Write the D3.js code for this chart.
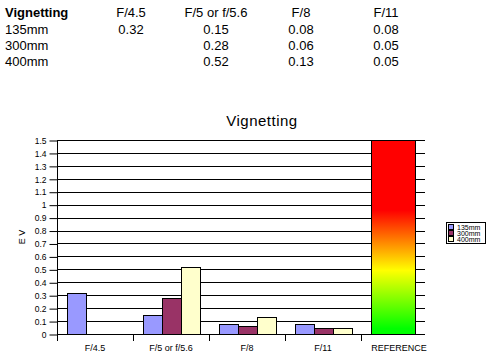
<!DOCTYPE html>
<html>
<head>
<meta charset="utf-8">
<script src="https://cdn.jsdelivr.net/npm/d3@7"></script>
<style>
  body { margin: 0; background: #fff; }
  svg { display: block; font-family: "Liberation Sans", Arial, sans-serif; }
</style>
</head>
<body>
<svg id="chart" width="502" height="361"></svg>
<script>
// data
var apertures = ["F/4.5", "F/5 or f/5.6", "F/8", "F/11"];
var lenses = ["135mm", "300mm", "400mm"];
var v135 = [0.32, 0.15, 0.08, 0.08];
var v300 = [null, 0.28, 0.06, 0.05];
var v400 = [null, 0.52, 0.13, 0.05];
var refLabel = "REFERENCE";
var refValue = 1.5;
var lensColors = ["#9999ff", "#993366", "#ffffcc"];
var yTicks = d3.range(0, 16).map(function(d) { return d / 10; });

var series = [v135, v300, v400];
var svg = d3.select("#chart");

// table on top
var table = svg.append("g").attr("font-size", 13);
var colX = [131, 216, 301, 386];
table.append("text").attr("x", 5).attr("y", 17).attr("font-weight", "bold").text("Vignetting");
table.selectAll(".colhead").data(apertures).enter().append("text")
    .attr("x", function(d, i) { return colX[i]; }).attr("y", 17)
    .attr("text-anchor", "middle").text(function(d) { return d; });
lenses.forEach(function(lens, r) {
  var y = 33.5 + r * 16.2;
  table.append("text").attr("x", 5).attr("y", y).text(lens);
  series[r].forEach(function(v, c) {
    if (v == null) return;
    table.append("text").attr("x", colX[c]).attr("y", y)
        .attr("text-anchor", "middle").text(v.toFixed(2));
  });
});

// chart
var cats = apertures.concat([refLabel]);
var x = d3.scaleBand().domain(cats).range([57, 437]);
var y = d3.scaleLinear().domain([0, 1.5]).range([334, 140]);
var sub = d3.scaleBand().domain(lenses).range([9.5, 66.5]);
var gridRight = 425;

svg.append("text").attr("x", 262).attr("y", 126).attr("text-anchor", "middle")
    .attr("font-size", 15).attr("letter-spacing", 0.5).text("Vignetting");

// gridlines
svg.append("g").selectAll("line").data(yTicks.slice(1)).enter().append("line")
    .attr("x1", 57).attr("x2", gridRight)
    .attr("y1", function(d) { return Math.round(y(d)) + 0.5; })
    .attr("y2", function(d) { return Math.round(y(d)) + 0.5; })
    .attr("stroke", "#000");

// gradient for the reference bar
var grad = svg.append("defs").append("linearGradient").attr("id", "refgrad")
    .attr("x1", 0).attr("y1", 0).attr("x2", 0).attr("y2", 1);
[[0, "#ff0000"], [0.36, "#ff0000"], [0.67, "#ffff00"], [0.97, "#00ff00"], [1, "#00ff00"]].forEach(function(s) {
  grad.append("stop").attr("offset", s[0]).attr("stop-color", s[1]);
});

// bars
lenses.forEach(function(lens, li) {
  svg.append("g").selectAll("rect").data(series[li].map(function(v, i) { return {c: apertures[i], v: v}; })
      .filter(function(d) { return d.v != null; }))
    .enter().append("rect")
    .attr("x", function(d) { return Math.round(x(d.c) + sub(lens)) + 0.5; })
    .attr("width", Math.round(sub.bandwidth()))
    .attr("y", function(d) { return Math.round(y(d.v)) + 0.5; })
    .attr("height", function(d) { return Math.round(y(0)) - Math.round(y(d.v)); })
    .attr("fill", lensColors[li]).attr("stroke", "#000");
});
svg.append("rect")
    .attr("x", Math.round(x(refLabel) + 10) + 0.5).attr("width", 44)
    .attr("y", Math.round(y(refValue)) + 0.5)
    .attr("height", Math.round(y(0)) - Math.round(y(refValue)))
    .attr("fill", "url(#refgrad)").attr("stroke", "#000");

// y axis
var yAxis = svg.append("g").attr("transform", "translate(57.5,0.5)")
    .call(d3.axisLeft(y).tickValues(yTicks).tickSize(8).tickPadding(3)
      .tickFormat(function(d) { return d3.format("")(+d.toFixed(1)); }));
yAxis.select(".domain").attr("d", "M0," + Math.round(y(1.5)) + "V" + (Math.round(y(0)) + 6));
yAxis.selectAll("text").attr("font-size", 8.5).attr("font-family", "Liberation Sans, Arial, sans-serif");

svg.append("text").attr("transform", "translate(25,237) rotate(-90)")
    .attr("text-anchor", "middle").attr("font-size", 9).text("E V");

// x axis
var xg = svg.append("g");
xg.append("line").attr("x1", 57).attr("x2", gridRight)
    .attr("y1", Math.round(y(0)) + 0.5).attr("y2", Math.round(y(0)) + 0.5).attr("stroke", "#000");
xg.selectAll(".tk").data(cats).enter().append("line")
    .attr("x1", function(d) { return Math.round(x(d)) + 0.5; })
    .attr("x2", function(d) { return Math.round(x(d)) + 0.5; })
    .attr("y1", Math.round(y(0))).attr("y2", Math.round(y(0)) + 7).attr("stroke", "#000");
xg.selectAll(".lb").data(cats).enter().append("text")
    .attr("x", function(d) { return x(d) + x.bandwidth() / 2; })
    .attr("y", 351).attr("text-anchor", "middle").attr("font-size", 9)
    .text(function(d) { return d; });

// legend
var lg = svg.append("g").attr("transform", "translate(446,222)");
lg.append("rect").attr("x", 0.5).attr("y", 0.5).attr("width", 39).attr("height", 21)
    .attr("fill", "#fff").attr("stroke", "#000");
lenses.forEach(function(lens, i) {
  lg.append("rect").attr("x", 2.5).attr("y", 2.5 + i * 6).attr("width", 5).attr("height", 5)
      .attr("fill", lensColors[i]).attr("stroke", "#000");
  lg.append("text").attr("x", 11).attr("y", 7.8 + i * 6).attr("font-size", 7).text(lens);
});
</script>
</body>
</html>
